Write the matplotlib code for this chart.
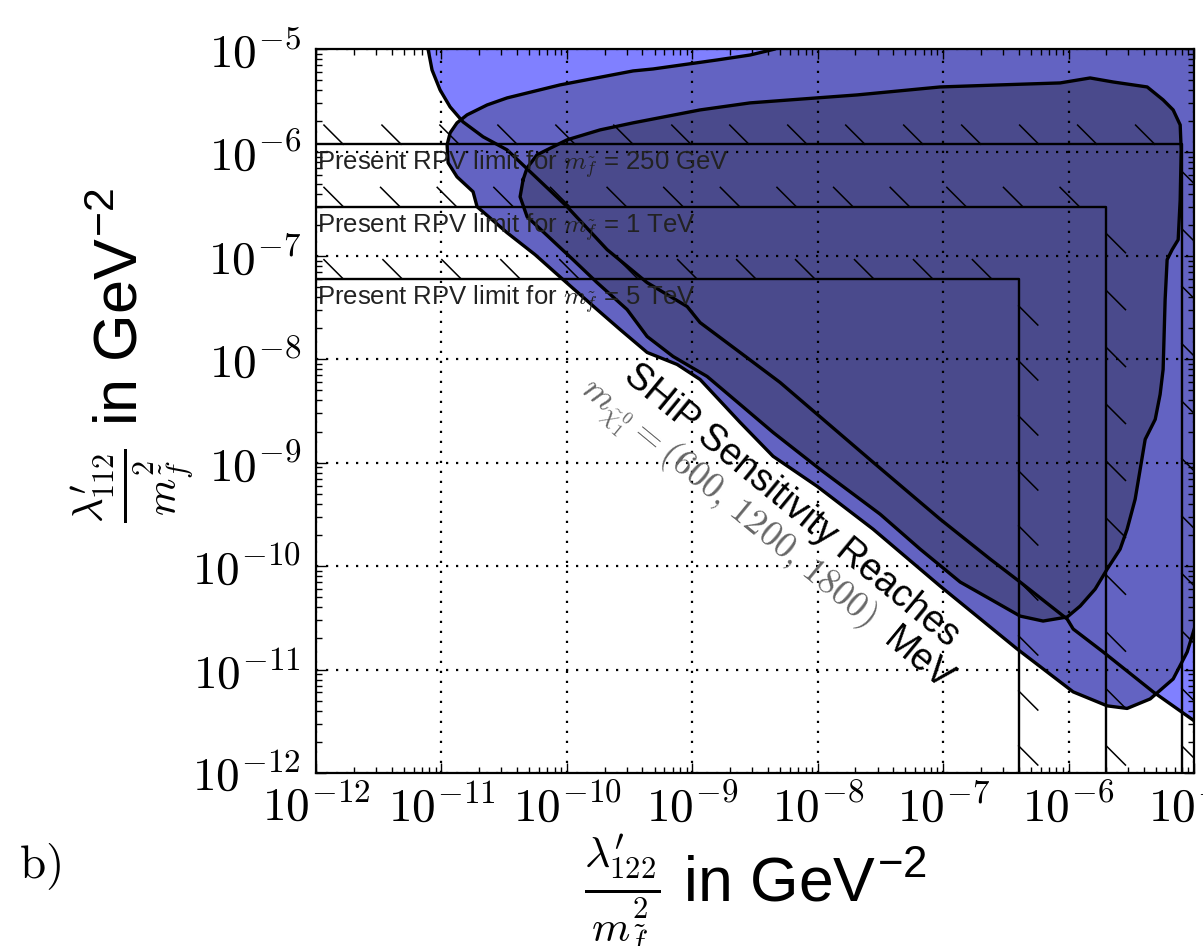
import numpy as np
import matplotlib
matplotlib.use('Agg')
import matplotlib.pyplot as plt
from matplotlib import patheffects
from matplotlib.ticker import FuncFormatter, LogLocator

plt.rcParams['font.family'] = ['Liberation Sans', 'DejaVu Sans']
plt.rcParams['mathtext.fontset'] = 'cm'

# Sensitivity contours, log10 of (lambda / m^2) in GeV^-2
# widest region: edge from the top, then the diagonal out of the right side
P_LX = [-11.15, -11.107, -11.075, -11.011, -10.931, -10.828, -10.668, -10.477, -9.998,
        -9.679, -9.360, -9.041, -8.938, -8.619, -8.300, -7.957, -7.558, -7.024, -6.625,
        -6.386, -6.011, -5.963, -5.724, -5.325, -4.998, -4.8, -4.8]
P_LY = [-4.8, -5.0, -5.203, -5.396, -5.560, -5.705, -5.849, -5.975, -6.525,
        -6.940, -7.259, -7.490, -7.645, -7.934, -8.224, -8.581, -8.996, -9.546, -9.932,
        -10.154, -10.512, -10.608, -10.830, -11.216, -11.496, -11.64, -4.8]

# second region: upper edge from the top, nose, lower diagonal and U near the right side
Q_LX = [-8.28, -8.34, -8.539, -8.802, -9.313, -9.472, -10.054, -10.477, -10.636, -10.796,
        -10.876, -10.931, -10.955, -10.947, -10.876, -10.748, -10.716, -10.477, -10.254,
        -10.030, -9.759, -9.576, -9.360, -9.121, -8.938, -8.619, -8.356, -8.005, -7.558,
        -7.024, -6.410, -5.963, -5.692, -5.533, -5.349, -5.166, -5.054, -4.998, -4.95,
        -4.8, -4.8]
Q_LY = [-4.8, -5.0, -5.058, -5.106, -5.193, -5.212, -5.347, -5.473, -5.541, -5.637,
        -5.714, -5.811, -5.927, -6.100, -6.236, -6.380, -6.525, -6.776, -6.988,
        -7.230, -7.519, -7.712, -7.934, -8.050, -8.195, -8.610, -8.938, -9.228, -9.643,
        -10.193, -10.801, -11.216, -11.351, -11.376, -11.284, -11.091, -10.830, -10.608, -10.40,
        -10.40, -4.8]

# inner closed region
R_LX = [-10.349, -10.317, -10.238, -9.998, -9.735, -9.472, -8.938, -8.539, -8.220, -7.686,
        -7.024, -6.545, -6.067, -5.828, -5.644, -5.373, -5.246, -5.166, -5.110, -5.102,
        -5.110, -5.126, -5.174, -5.214, -5.230, -5.246, -5.270, -5.309, -5.389, -5.429,
        -5.469, -5.533, -5.589, -5.692, -5.788, -5.907, -6.011, -6.203, -6.386, -6.625,
        -6.864, -7.183, -7.502, -7.981, -8.356, -8.619, -8.882, -9.153, -9.360, -9.520,
        -9.759, -9.951, -10.317, -10.373]
R_LY = [-6.264, -6.149, -6.023, -5.878, -5.782, -5.714, -5.589, -5.521, -5.492, -5.444,
        -5.367, -5.347, -5.328, -5.280, -5.319, -5.367, -5.492, -5.589, -5.734, -5.975,
        -6.458, -6.844, -6.940, -7.037, -7.423, -8.098, -8.340, -8.581, -8.774, -9.064,
        -9.353, -9.643, -9.836, -10.029, -10.222, -10.386, -10.492, -10.531, -10.483, -10.318,
        -10.154, -9.836, -9.498, -9.064, -8.707, -8.436, -8.166, -7.973, -7.780, -7.519,
        -7.259, -7.037, -6.622, -6.429]

# present RPV limits
RPV_MASS = ['250 GeV', '1 TeV', '5 TeV']
RPV_Y = [1.2e-6, 3.0e-7, 6.0e-8]
RPV_X = [8.0e-6, 2.0e-6, 4.0e-7]

XMIN, XMAX = 1e-12, 1e-5

fig = plt.figure(figsize=(12.03, 9.46), dpi=100)
ax = fig.add_axes([0.2627, 0.1829, 0.7298, 0.7653])
ax.set_xscale('log')
ax.set_yscale('log')

regions = [(P_LX, P_LY, '#8080ff', False),
           (Q_LX, Q_LY, '#6363c2', False),
           (R_LX, R_LY, '#4a4a8c', True)]
for i, (lx, ly, col, closed) in enumerate(regions):
    x = 10 ** np.array(lx)
    y = 10 ** np.array(ly)
    ax.fill(x, y, color=col, lw=0, zorder=1 + 0.1 * i)
for lx, ly, col, closed in regions:
    x = 10 ** np.array(lx)
    y = 10 ** np.array(ly)
    if closed:
        x = np.append(x, x[0])
        y = np.append(y, y[0])
    ax.plot(x, y, color='k', lw=2.4, zorder=2, solid_joinstyle='round')

# RPV limit corners with ticks on the excluded side
for m, yl, xl in zip(RPV_MASS, RPV_Y, RPV_X):
    ax.plot([XMIN, xl, xl], [yl, yl, XMIN], color='k', lw=1.7, zorder=3)
    ax.plot([XMIN, xl], [yl, yl], color='k', lw=1.1, zorder=3,
            path_effects=[patheffects.TickedStroke(angle=135, spacing=39, length=0.5)])
    ax.plot([xl, xl], [yl, XMIN], color='k', lw=1.1, zorder=3,
            path_effects=[patheffects.TickedStroke(angle=45, spacing=39, length=0.5)])
    ax.annotate('Present RPV limit for $m_{\\tilde{f}}$ = ' + m, xy=(XMIN, yl),
                xytext=(1, -3), textcoords='offset points', ha='left', va='top',
                fontsize=18.5, color='#222222', zorder=4)

rot = -39.5
ax.text(0.542, 0.369, 'SHiP Sensitivity Reaches', transform=ax.transAxes,
        rotation=rot, rotation_mode='anchor', ha='center', va='center', fontsize=27)
ax.text(0.468, 0.372, r'$m_{\tilde{\chi}_1^0}=(600,\,1200,\,1800)$', transform=ax.transAxes,
        rotation=rot, rotation_mode='anchor', ha='center', va='center', fontsize=26,
        color='#666666')
ax.text(0.686, 0.156, 'MeV', transform=ax.transAxes,
        rotation=rot, rotation_mode='anchor', ha='center', va='center', fontsize=27)

ax.set_xlim(XMIN, XMAX)
ax.set_ylim(XMIN, XMAX)
ax.set_axisbelow(False)
ax.grid(True, which='major', color='k', lw=1.6, linestyle=(0, (1, 3.5)))

fmt = FuncFormatter(lambda v, pos: r'$10^{%d}$' % round(np.log10(v)))
for axis in (ax.xaxis, ax.yaxis):
    axis.set_major_locator(LogLocator(base=10, numticks=20))
    axis.set_minor_locator(LogLocator(base=10, subs=np.arange(2, 10), numticks=20))
    axis.set_major_formatter(fmt)
ax.tick_params(which='both', direction='in', top=True, right=True, width=1.0)
ax.tick_params(which='major', length=7, labelsize=34)
ax.tick_params(axis='x', which='major', pad=9)
ax.tick_params(axis='y', which='major', pad=11)
ax.tick_params(which='minor', length=4)
for s in ax.spines.values():
    s.set_linewidth(1.6)

ax.set_xlabel(r"$\frac{\lambda^{\prime}_{122}}{m^2_{\tilde{f}}}$ in GeV$^{\mathdefault{-2}}$",
              fontsize=45, labelpad=0)
ax.set_ylabel(r"$\frac{\lambda^{\prime}_{112}}{m^2_{\tilde{f}}}$ in GeV$^{\mathdefault{-2}}$",
              fontsize=44)
ax.yaxis.set_label_coords(-0.138, 0.577)

fig.text(0.016, 0.072, r'$\mathrm{b)}$', fontsize=34)

fig.savefig('out.png', dpi=100)
